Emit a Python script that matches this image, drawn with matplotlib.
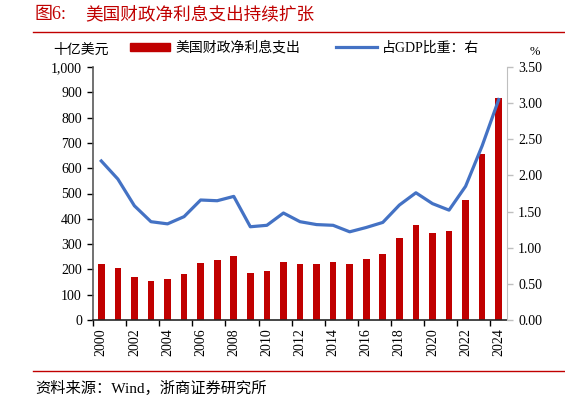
import numpy as np
import matplotlib.pyplot as plt
from matplotlib.lines import Line2D
from matplotlib.patches import Patch

plt.rcParams['font.family'] = ['Liberation Serif', 'Noto Sans CJK SC']
plt.rcParams['axes.unicode_minus'] = False

# -- data --
years = list(range(2000, 2025))
interest = [221, 205, 170, 153, 161, 183, 225, 237, 252, 186, 195, 229, 220,
            221, 229, 223, 240, 262, 325, 374, 344, 352, 474, 656, 877]
gdp_share = [2.20, 1.95, 1.58, 1.36, 1.33, 1.43, 1.66, 1.65, 1.71, 1.29, 1.31,
             1.48, 1.36, 1.32, 1.31, 1.22, 1.28, 1.35, 1.59, 1.76, 1.61, 1.52,
             1.85, 2.41, 3.05]
bar_label = '美国财政净利息支出'
line_label = '占GDP比重：右'

RED = '#C00000'
BLUE = '#4472C4'
W, H = 565, 401

fig = plt.figure(figsize=(W / 100, H / 100), dpi=100)

def fx(px):
    return px / W

def fy(py):
    return 1 - py / H

ax = fig.add_axes([fx(93), fy(320), fx(507) - fx(93), fy(67) - fy(320)])
ax2 = ax.twinx()

x = np.arange(len(years))
ax.bar(x, interest, width=0.4, color=RED, zorder=2)
ax2.plot(x, gdp_share, color=BLUE, lw=2.3, zorder=3)

ax.set_xlim(-0.5, len(years) - 0.5)
ax.set_ylim(0, 1000)
ax2.set_ylim(0, 3.5)

ax.set_yticks(np.arange(0, 1001, 100))
ax.set_yticklabels([f'{v:,}' for v in range(0, 1001, 100)])
ax2.set_yticks(np.arange(0, 3.51, 0.5))
ax2.set_yticklabels([f'{v:.2f}' for v in np.arange(0, 3.51, 0.5)])

# boundary ticks every two years, labels at bar centres
ax.set_xticks(np.arange(-0.5, len(years), 2))
ax.set_xticklabels([])
ax.set_xticks(x[::2], minor=True)
ax.set_xticklabels([str(y) for y in years[::2]], minor=True, rotation=90)
ax.tick_params(axis='x', which='major', length=4, width=1, direction='out')
ax.tick_params(axis='x', which='minor', length=0, pad=6, labelsize=10)
ax.tick_params(axis='y', length=4, width=1, labelsize=10, pad=4)
ax2.tick_params(axis='y', length=4, width=1, labelsize=10, pad=4,
                color='#BFBFBF')

for a in (ax, ax2):
    a.spines['top'].set_visible(False)
ax.spines['left'].set_color('#595959')
ax.spines['left'].set_linewidth(1.2)
ax.spines['bottom'].set_color('#262626')
ax.spines['bottom'].set_linewidth(1.2)
ax2.spines['right'].set_color('#BFBFBF')
ax2.spines['left'].set_visible(False)
ax2.spines['bottom'].set_visible(False)
ax.spines['right'].set_visible(False)

# -- title, rules, source --
fig.text(fx(35), fy(15), '图6:', color=RED, fontsize=13,
         va='center', ha='left')
fig.text(fx(85), fy(15), '美国财政净利息支出持续扩张', color=RED,
         fontsize=12.7, va='center', ha='left')
fig.add_artist(Line2D([fx(33), 1], [fy(31.5), fy(31.5)], color=RED, lw=1.0,
                      transform=fig.transFigure))
fig.add_artist(Line2D([fx(33), 1], [fy(371), fy(371)], color=RED, lw=1.0,
                      transform=fig.transFigure))
fig.text(fx(35), fy(388), '资料来源：Wind，浙商证券研究所', fontsize=11,
         va='center', ha='left')

fig.text(fx(81), fy(50), '十亿美元', fontsize=10, va='center', ha='center')
fig.text(fx(535), fy(52), '%', fontsize=9, va='center', ha='center')

handles = [Patch(color=RED, label=bar_label),
           Line2D([0], [0], color=BLUE, lw=2.3, label=line_label)]
fig.legend(handles=handles, ncol=2, frameon=False, fontsize=10,
           loc='center left', bbox_to_anchor=(fx(124), fy(48)),
           handlelength=2.9, handleheight=0.6, handletextpad=0.4,
           columnspacing=2.6, borderaxespad=0)

fig.savefig('out.png', dpi=100)
